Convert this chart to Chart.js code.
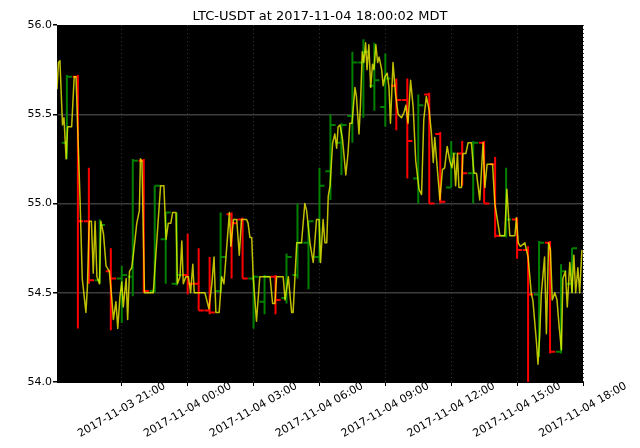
<!DOCTYPE html>
<html><head><meta charset="utf-8">
<script src="https://cdn.jsdelivr.net/npm/chart.js@4/dist/chart.umd.min.js"></script>
<style>html,body{margin:0;padding:0;background:#fff;overflow:hidden}#wrap{width:640px;height:448px}</style>
</head><body><div id="wrap"><canvas id="c" width="640" height="448"></canvas></div>
<script>
const titleText = 'LTC-USDT at 2017-11-04 18:00:02 MDT';
// time axis: minutes after 2017-11-03 18:00
const startTime = Date.UTC(2017, 10, 3, 18, 0);
const xTickMinutes = [180, 360, 540, 720, 900, 1080, 1260, 1440];
const yTickValues = [54.0, 54.5, 55.0, 55.5, 56.0];

// 30-minute OHLC candles
const candleMinutes = [30,60,90,120,150,180,210,240,270,300,330,360,390,420,450,480,510,540,570,600,630,660,690,720,750,780,810,840,870,900,930,960,990,1020,1050,1080,1110,1140,1170,1200,1230,1260,1290,1320,1350,1380,1410];
const candleOpen = [55.34,55.71,54.90,54.57,54.62,54.58,54.59,55.24,54.51,54.80,54.55,54.60,54.55,54.40,54.51,54.94,54.91,54.58,54.45,54.59,54.47,54.60,54.78,54.70,55.18,55.34,55.49,55.79,55.66,55.54,55.66,55.58,55.14,55.61,55.39,55.09,55.28,55.17,55.34,55.22,54.82,54.91,54.74,54.49,54.78,54.17,54.55];
const candleHigh = [55.72,55.72,55.20,54.91,54.75,54.65,55.25,55.25,55.10,54.95,54.95,54.83,54.75,54.70,54.95,54.95,54.92,54.60,54.60,54.60,54.72,55.00,54.90,55.20,55.50,55.45,55.85,55.92,55.90,55.84,55.70,55.70,55.61,55.62,55.40,55.35,55.35,55.35,55.35,55.26,55.20,54.92,54.76,54.79,54.79,54.66,54.75];
const candleLow = [55.25,54.30,54.55,54.55,54.29,54.33,54.48,54.50,54.50,54.55,54.54,54.49,54.40,54.38,54.50,54.58,54.58,54.30,54.38,54.38,54.44,54.58,54.52,54.67,55.02,55.16,55.34,55.48,55.52,55.43,55.41,55.14,55.00,55.00,55.00,55.09,55.10,55.00,55.00,54.81,54.81,54.69,54.00,54.14,54.16,54.16,54.50];
const candleClose = [55.71,54.90,54.57,54.88,54.58,54.60,55.24,54.51,55.10,54.95,54.60,54.55,54.40,54.39,54.70,54.89,54.58,54.59,54.59,54.46,54.70,54.78,54.90,55.10,55.44,55.44,55.79,55.85,55.69,55.70,55.58,55.35,55.55,55.00,55.01,55.28,55.17,55.34,55.00,54.82,54.91,54.74,54.49,54.78,54.17,54.62,54.75];

// price line
const priceMinutes = [
 3,7,11,18,22,28,32,43,50,55,
 66,72,82,86,91,97,102,107,112,119,
 123,130,137,146,153,157,164,169,175,180,
 184,192,196,201,207,212,221,228,231,235,
 242,257,266,286,295,301,307,314,319,328,
 332,339,344,348,355,362,368,374,378,407,
 412,418,426,432,437,446,453,459,474,478,
 485,494,501,507,521,525,530,535,539,548,
 557,571,585,592,598,603,621,626,635,644,
 648,658,671,680,685,694,703,712,719,723,
 730,735,740,744,749,756,762,767,771,776,
 783,792,798,803,809,817,821,828,832,837,
 841,846,850,855,860,865,869,874,879,883,
 890,894,899,905,910,914,921,928,935,944,
 951,956,962,969,976,983,992,999,1005,1012,
 1020,1026,1031,1035,1049,1056,1062,1069,1076,1082,
 1087,1092,1097,1101,1108,1112,1120,1126,1135,1142,
 1149,1158,1167,1172,1178,1193,1199,1213,1226,1232,
 1240,1254,1258,1263,1269,1281,1290,1299,1303,1313,
 1317,1322,1326,1335,1340,1346,1351,1356,1363,1369,
 1374,1381,1385,1392,1397,1404,1410,1415,1420,1426,
 1431,1437];
const priceValues = [
 55.64,55.79,55.80,55.44,55.48,55.25,55.43,55.43,55.71,55.71,
 55.02,54.58,54.39,54.53,54.90,54.90,54.61,54.90,54.59,54.55,
 54.90,54.83,54.65,54.62,54.46,54.35,54.45,54.30,54.48,54.56,
 54.42,54.58,54.35,54.62,54.64,54.72,54.89,54.96,55.25,55.24,
 54.50,54.50,54.50,55.10,55.10,54.80,54.89,54.89,54.95,54.95,
 54.55,54.59,54.79,54.55,54.59,54.59,54.50,54.66,54.50,54.50,
 54.46,54.41,54.55,54.70,54.39,54.39,54.59,54.55,54.95,54.76,
 54.91,54.91,54.71,54.91,54.91,54.89,54.81,54.81,54.59,54.34,
 54.59,54.59,54.59,54.44,54.44,54.59,54.59,54.46,54.59,54.39,
 54.39,54.78,54.78,55.00,54.96,54.78,54.67,54.91,54.91,54.67,
 54.91,54.78,54.78,55.04,55.10,55.34,55.39,55.31,55.43,55.44,
 55.36,55.16,55.28,55.45,55.45,55.65,55.60,55.39,55.55,55.85,
 55.79,55.90,55.75,55.89,55.65,55.78,55.75,55.89,55.79,55.82,
 55.75,55.66,55.71,55.73,55.65,55.45,55.79,55.61,55.50,55.48,
 55.51,55.55,55.45,55.69,55.54,55.24,55.08,55.05,55.47,55.60,
 55.52,55.39,55.23,55.37,55.02,55.19,55.20,55.32,55.24,55.20,
 55.28,55.10,55.28,55.09,55.09,55.28,55.28,55.34,55.34,55.17,
 55.17,55.02,55.34,55.09,55.22,55.22,55.00,54.82,54.82,55.08,
 54.82,54.82,54.92,54.78,54.76,54.78,54.70,54.49,54.46,54.22,
 54.10,54.27,54.49,54.70,54.27,54.78,54.74,54.46,54.50,54.46,
 54.33,54.18,54.58,54.62,54.42,54.67,54.50,54.71,54.50,54.64,
 54.50,54.74];

const TICK_HALF = 14; // minutes

function ohlcPoints(up) {
  const pts = [];
  candleMinutes.forEach((t, i) => {
    const isUp = candleClose[i] >= candleOpen[i];
    if (isUp !== up) return;
    pts.push({x: t, y: candleLow[i]}, {x: t, y: candleHigh[i]}, {x: t, y: null},
             {x: t - TICK_HALF, y: candleOpen[i]}, {x: t, y: candleOpen[i]}, {x: t, y: null},
             {x: t, y: candleClose[i]}, {x: t + TICK_HALF, y: candleClose[i]}, {x: t, y: null});
  });
  return pts;
}
const pricePoints = priceMinutes.map((m, i) => ({x: m, y: priceValues[i]}));

function fmtMinutes(m) {
  const d = new Date(startTime + m * 60000);
  const p = n => String(n).padStart(2, '0');
  return d.getUTCFullYear() + '-' + p(d.getUTCMonth() + 1) + '-' + p(d.getUTCDate()) + ' ' + p(d.getUTCHours()) + ':' + p(d.getUTCMinutes());
}

const bgPlugin = {
  id: 'bg',
  beforeDraw(chart) {
    const {ctx, chartArea: a} = chart;
    ctx.save();
    ctx.fillStyle = '#fff';
    ctx.fillRect(0, 0, chart.width, chart.height);
    ctx.fillStyle = '#000';
    ctx.fillRect(a.left, a.top, a.right - a.left, a.bottom - a.top);
    ctx.restore();
  }
};
const textPlugin = {
  id: 'texts',
  afterDraw(chart) {
    const sc = chart.scales.x, ctx = chart.ctx;
    ctx.save();
    ctx.fillStyle = '#000';
    ctx.font = '13px "DejaVu Sans"';
    ctx.textAlign = 'center';
    ctx.textBaseline = 'middle';
    ctx.fillText(titleText, chart.width / 2, 17);
    ctx.font = '11px "DejaVu Sans"';
    sc.ticks.forEach(t => {
      const px = sc.getPixelForValue(t.value);
      ctx.save();
      ctx.translate(px, 410);
      ctx.rotate(-Math.PI / 6);
      ctx.fillText(fmtMinutes(t.value), 0, 0);
      ctx.restore();
    });
    ctx.restore();
  }
};

Chart.defaults.font.family = '"DejaVu Sans"';
new Chart(document.getElementById('c'), {
  type: 'line',
  data: {
    datasets: [
      {data: pricePoints, borderColor: 'rgba(255,255,0,0.75)', borderWidth: 1.5, pointRadius: 0, tension: 0, borderJoinStyle: 'round', spanGaps: false},
      {data: ohlcPoints(false), borderColor: '#ff0000', borderWidth: 2, pointRadius: 0, tension: 0, spanGaps: false, borderCapStyle: 'butt'},
      {data: ohlcPoints(true), borderColor: '#008000', borderWidth: 2, pointRadius: 0, tension: 0, spanGaps: false, borderCapStyle: 'butt'}
    ]
  },
  options: {
    responsive: false,
    animation: false,
    devicePixelRatio: 1,
    layout: {padding: {left: 0, right: 57, top: 25, bottom: 0}},
    plugins: {
      legend: {display: false},
      tooltip: {enabled: false},
      title: {display: false}
    },
    scales: {
      x: {
        type: 'linear', min: 3, max: 1440,
        afterBuildTicks: s => { s.ticks = xTickMinutes.map(v => ({value: v})); },
        afterFit: s => { s.height = 66; },
        ticks: {display: false},
        grid: {color: '#333333', lineWidth: 1, tickColor: '#000', tickLength: 4, drawTicks: true},
        border: {display: true, color: '#000', width: 1, dash: [1, 3]}
      },
      y: {
        min: 54, max: 56,
        afterBuildTicks: s => { s.ticks = yTickValues.map(v => ({value: v})); },
        afterFit: s => { s.width = 57; },
        ticks: {color: '#000', font: {size: 11}, padding: 1, callback: v => Number(v).toFixed(1)},
        grid: {color: c => (c.tick && (c.tick.value === 54 || c.tick.value === 56)) ? 'rgba(0,0,0,0)' : '#3c3c3c', lineWidth: 1.5, tickColor: '#000', tickLength: 4},
        border: {display: true, color: '#000', width: 1}
      }
    }
  },
  plugins: [bgPlugin, textPlugin]
});
</script></body></html>
